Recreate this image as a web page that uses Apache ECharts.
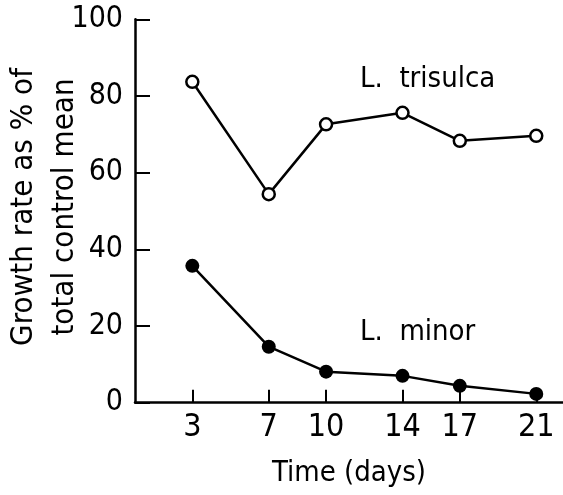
<!DOCTYPE html>
<html>
<head>
<meta charset="utf-8">
<script src="https://cdn.jsdelivr.net/npm/echarts@6/dist/echarts.min.js"></script>
<style>
html,body{margin:0;padding:0;background:#fff;}
#c{width:563px;height:495px;}
</style>
</head>
<body>
<div id="c"></div>
<script>
var days = [3, 7, 10, 14, 17, 21];
var trisulca = [83.7, 54.4, 72.6, 75.6, 68.3, 69.6];
var minor = [35.7, 14.6, 8.1, 7.0, 4.4, 2.3];
var yTicks = [0, 20, 40, 60, 80, 100];
var xTitle = 'Time (days)';
var yTitle = 'Growth rate as % of\ntotal control mean';
var nameTrisulca = 'L.  trisulca';
var nameMinor = 'L.  minor';

var FONT = '"Liberation Sans Narrow", "DejaVu Sans Condensed", "Liberation Sans", sans-serif';

function pairs(xs, ys) { return xs.map(function (x, i) { return [x, ys[i]]; }); }

var chart = echarts.init(document.getElementById('c'), null, {renderer: 'canvas'});
chart.setOption({
  backgroundColor: '#fff',
  animation: false,
  grid: {left: 135, right: 0, top: 19.3, bottom: 92.3, containLabel: false, outerBoundsMode: 'none'},
  xAxis: {
    type: 'value', min: 0, max: 22.4,
    name: xTitle, nameLocation: 'middle', nameGap: 56, nameMoveOverlap: false,
    nameTextStyle: {fontFamily: FONT, fontSize: 29, color: '#000'},
    axisLine: {lineStyle: {color: '#000', width: 2.5}},
    axisTick: {show: true, inside: true, length: 13, customValues: days, lineStyle: {color: '#000', width: 2}},
    axisLabel: {customValues: days, fontFamily: FONT, fontSize: 32, color: '#000', margin: 9},
    splitLine: {show: false}
  },
  yAxis: {
    type: 'value', min: 0, max: 100, interval: 20,
    name: yTitle, nameLocation: 'middle', nameGap: 50, nameRotate: 90, nameMoveOverlap: false,
    nameTextStyle: {fontFamily: FONT, fontSize: 31, color: '#000', lineHeight: 41, align: 'center', padding: [0, 0, 0, 8]},
    axisLine: {show: true, lineStyle: {color: '#000', width: 2.5}},
    axisTick: {show: true, inside: true, length: 15, lineStyle: {color: '#000', width: 2}},
    axisLabel: {fontFamily: FONT, fontSize: 30, color: '#000', margin: 12},
    splitLine: {show: false}
  },
  series: [
    {
      name: nameTrisulca, type: 'line', data: pairs(days, trisulca),
      symbol: 'circle', symbolSize: 12,
      itemStyle: {color: '#fff', borderColor: '#000', borderWidth: 2.5},
      lineStyle: {color: '#000', width: 2.5}
    },
    {
      name: nameMinor, type: 'line', data: pairs(days, minor),
      symbol: 'circle', symbolSize: 14,
      itemStyle: {color: '#000', borderColor: '#000', borderWidth: 0},
      lineStyle: {color: '#000', width: 2.5}
    }
  ],
  graphic: [
    {type: 'text', left: 360, top: 65, style: {text: nameTrisulca, fontSize: 29, fontFamily: FONT, fill: '#000'}},
    {type: 'text', left: 360, top: 318, style: {text: nameMinor, fontSize: 29, fontFamily: FONT, fill: '#000'}}
  ]
});
</script>
</body>
</html>
